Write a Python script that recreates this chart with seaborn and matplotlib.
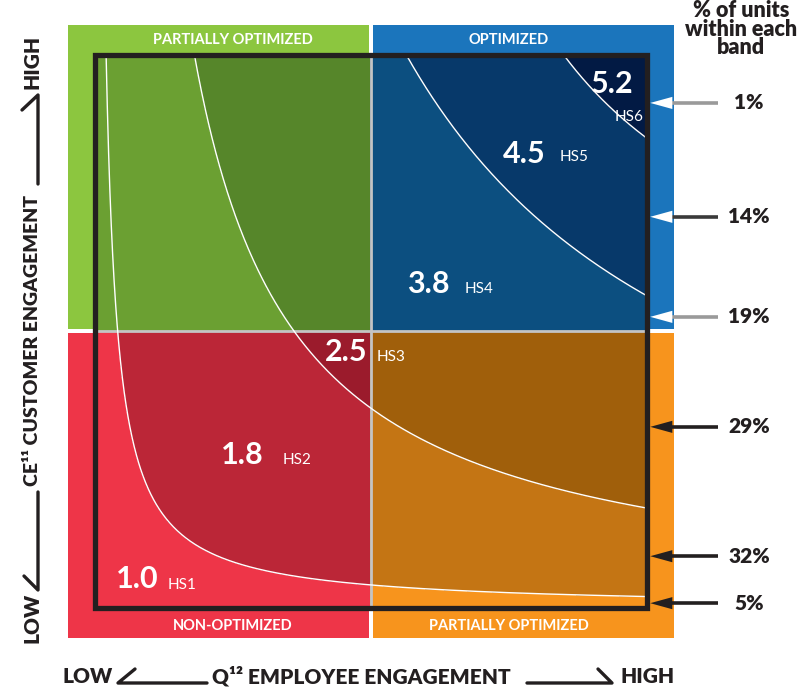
import numpy as np
import pandas as pd
import matplotlib.pyplot as plt
import seaborn as sns
from matplotlib.patches import Rectangle, Polygon

# ---- data -----------------------------------------------------------------
# quadrants: bottom-left, bottom-right, top-left, top-right
quad_titles = ["NON-OPTIMIZED", "PARTIALLY OPTIMIZED", "PARTIALLY OPTIMIZED", "OPTIMIZED"]
quad_frame = ["#ee3548", "#f7941d", "#8cc63f", "#1b75bc"]
quad_bands = [
    ["#ee3548", "#bb2637", "#9b1b2c", "#9b1b2c", "#9b1b2c"],
    ["#f7941d", "#c47514", "#a05f0b", "#a05f0b", "#a05f0b"],
    ["#6ba032", "#6ba032", "#56862a", "#56862a", "#56862a"],
    ["#0c4f80", "#0c4f80", "#0c4f80", "#07396a", "#021a44"],
]

# band boundaries: y = offset + const / (x - offset)
curve_const = [0.021, 0.181, 0.565, 0.27]
curve_offset = [0.0, 0.0, 0.0, 0.4]

band_values = ["1.0", "1.8", "2.5", "3.8", "4.5", "5.2"]
band_names = ["HS1", "HS2", "HS3", "HS4", "HS5", "HS6"]
band_share = ["1%", "14%", "19%", "29%", "32%", "5%"]

# ---- layout ---------------------------------------------------------------
W, H = 810, 687
XL = (-0.048, 1.049)
YL = (-0.054, 1.055)
SPLIT_X, SPLIT_Y, GAP = 0.5, 0.501, 0.0036

value_pos = [(0.077, 0.053), (0.268, 0.277), (0.455, 0.463),
             (0.605, 0.586), (0.777, 0.822), (0.936, 0.948)]
name_pos = [(0.133, 0.042), (0.341, 0.268), (0.511, 0.454),
            (0.670, 0.577), (0.842, 0.816), (0.941, 0.889)]
share_y = [0.914, 0.708, 0.527, 0.328, 0.094, 0.009]
share_style = [("white", "#9a9a9a"), ("white", "#3a3a3a"), ("white", "#9a9a9a"),
               ("#231f20", "#231f20"), ("#231f20", "#231f20"), ("#231f20", "#231f20")]

sns.set_theme(style="white")
plt.rcParams["font.family"] = ["Lato", "DejaVu Sans"]

fig = plt.figure(figsize=(W / 100, H / 100), dpi=100)
px_left, px_right, px_top, px_bottom = 68, 674, 25, 638
ax = fig.add_axes([px_left / W, 1 - px_bottom / H,
                   (px_right - px_left) / W, (px_bottom - px_top) / H])
ax.set_xlim(*XL)
ax.set_ylim(*YL)
ax.axis("off")

quad_box = [
    (XL[0], SPLIT_X - GAP, YL[0], SPLIT_Y - GAP),
    (SPLIT_X + GAP, XL[1], YL[0], SPLIT_Y - GAP),
    (XL[0], SPLIT_X - GAP, SPLIT_Y + GAP, YL[1]),
    (SPLIT_X + GAP, XL[1], SPLIT_Y + GAP, YL[1]),
]
inner_box = [(0, SPLIT_X, 0, SPLIT_Y), (SPLIT_X, 1, 0, SPLIT_Y),
             (0, SPLIT_X, SPLIT_Y, 1), (SPLIT_X, 1, SPLIT_Y, 1)]


def band_index(X, Y):
    B = np.zeros_like(X)
    for c, a in zip(curve_const, curve_offset):
        B += ((X > a) & (Y > a) & ((X - a) * (Y - a) > c)).astype(float)
    return B


for q in range(4):
    x0, x1, y0, y1 = quad_box[q]
    ax.add_patch(Rectangle((x0, y0), x1 - x0, y1 - y0, color=quad_frame[q], lw=0, zorder=1))
    ix0, ix1, iy0, iy1 = inner_box[q]
    xs = np.linspace(ix0, ix1, 500)
    ys = np.linspace(iy0, iy1, 500)
    X, Y = np.meshgrid(xs, ys)
    ax.contourf(X, Y, band_index(X, Y), levels=[-0.5, 0.5, 1.5, 2.5, 3.5, 4.5],
                colors=quad_bands[q], zorder=2, antialiased=False)

# quadrant dividers inside the box
ax.plot([SPLIT_X, SPLIT_X], [0, 1], color="#c4c4c4", lw=2, zorder=3)
ax.plot([0, 1], [SPLIT_Y, SPLIT_Y], color="#c4c4c4", lw=2, zorder=3)

# band boundary curves
for c, a in zip(curve_const, curve_offset):
    xs = a + np.geomspace(c / (1 - a), 1 - a, 400)
    curve = pd.DataFrame({"x": xs, "y": a + c / (xs - a)})
    sns.lineplot(data=curve, x="x", y="y", color="white", lw=1, sort=False,
                 estimator=None, ax=ax, zorder=4)

ax.add_patch(Rectangle((0, 0), 1, 1, fill=False, ec="#231f20", lw=3.8, zorder=5))

# quadrant titles
title_pos = [(0.25, -0.033), (0.75, -0.033), (0.25, 1.028), (0.75, 1.028)]
for t, (x, y) in zip(quad_titles, title_pos):
    ax.text(x, y, t, color="white", fontsize=10.5, fontweight="bold",
            ha="center", va="center", zorder=6)

# band values and names
for v, n, (vx, vy), (nx, ny) in zip(band_values, band_names, value_pos, name_pos):
    ax.text(vx, vy, v, color="white", fontsize=22, fontweight="bold",
            ha="center", va="center", zorder=6)
    ax.text(nx, ny, n, color="white", fontsize=11, ha="left", va="center", zorder=6)

# share of units arrows on the right
for s, y, (fc, lc) in zip(band_share, share_y, share_style):
    ax.plot([1.044, 1.129], [y, y], color=lc, lw=2.6, clip_on=False, zorder=6,
            solid_capstyle="butt")
    ax.add_patch(Polygon([(1.006, y), (1.046, y + 0.011), (1.046, y - 0.011)],
                         closed=True, fc=fc, ec="none", clip_on=False, zorder=7))
    ax.text(1.185, y, s, fontsize=15, fontweight="heavy",
            color="#231f20", ha="center", va="center", clip_on=False)

# annotation layer in pixel coordinates
ann = fig.add_axes([0, 0, 1, 1], zorder=10)
ann.set_xlim(0, W)
ann.set_ylim(H, 0)
ann.axis("off")
ann.patch.set_alpha(0)

ann.text(741, 29, "% of units\nwithin each\nband", fontsize=15.5, fontweight="heavy",
         color="#231f20", ha="center", va="center", linespacing=0.88)

lab = dict(fontsize=15, fontweight="heavy", color="#231f20")
ann.text(88, 683, "LOW", ha="center", va="baseline", **lab)
ann.text(361, 683, "Q\u00b9\u00b2 EMPLOYEE ENGAGEMENT", ha="center", va="baseline", **lab)
ann.text(648, 683, "HIGH", ha="center", va="baseline", **lab)
ann.plot([135, 118, 207], [669, 683, 683], color="#231f20", lw=2.4)
ann.plot([527, 612, 598], [683, 683, 669], color="#231f20", lw=2.4)

rot = dict(rotation=90, rotation_mode="anchor", ha="center", va="baseline")
ann.text(38, 618, "LOW", **rot, **lab)
ann.text(38, 340, "CE\u00b9\u00b9 CUSTOMER ENGAGEMENT", rotation=90, rotation_mode="anchor",
         ha="center", va="baseline", fontsize=14, fontweight="heavy", color="#231f20")
ann.text(38, 62, "HIGH", **rot, **lab)
ann.plot([24, 38, 38], [576, 590, 492], color="#231f20", lw=2.4)
ann.plot([22, 38, 38], [110, 95, 184], color="#231f20", lw=2.4)

plt.savefig("out.png", dpi=100)
